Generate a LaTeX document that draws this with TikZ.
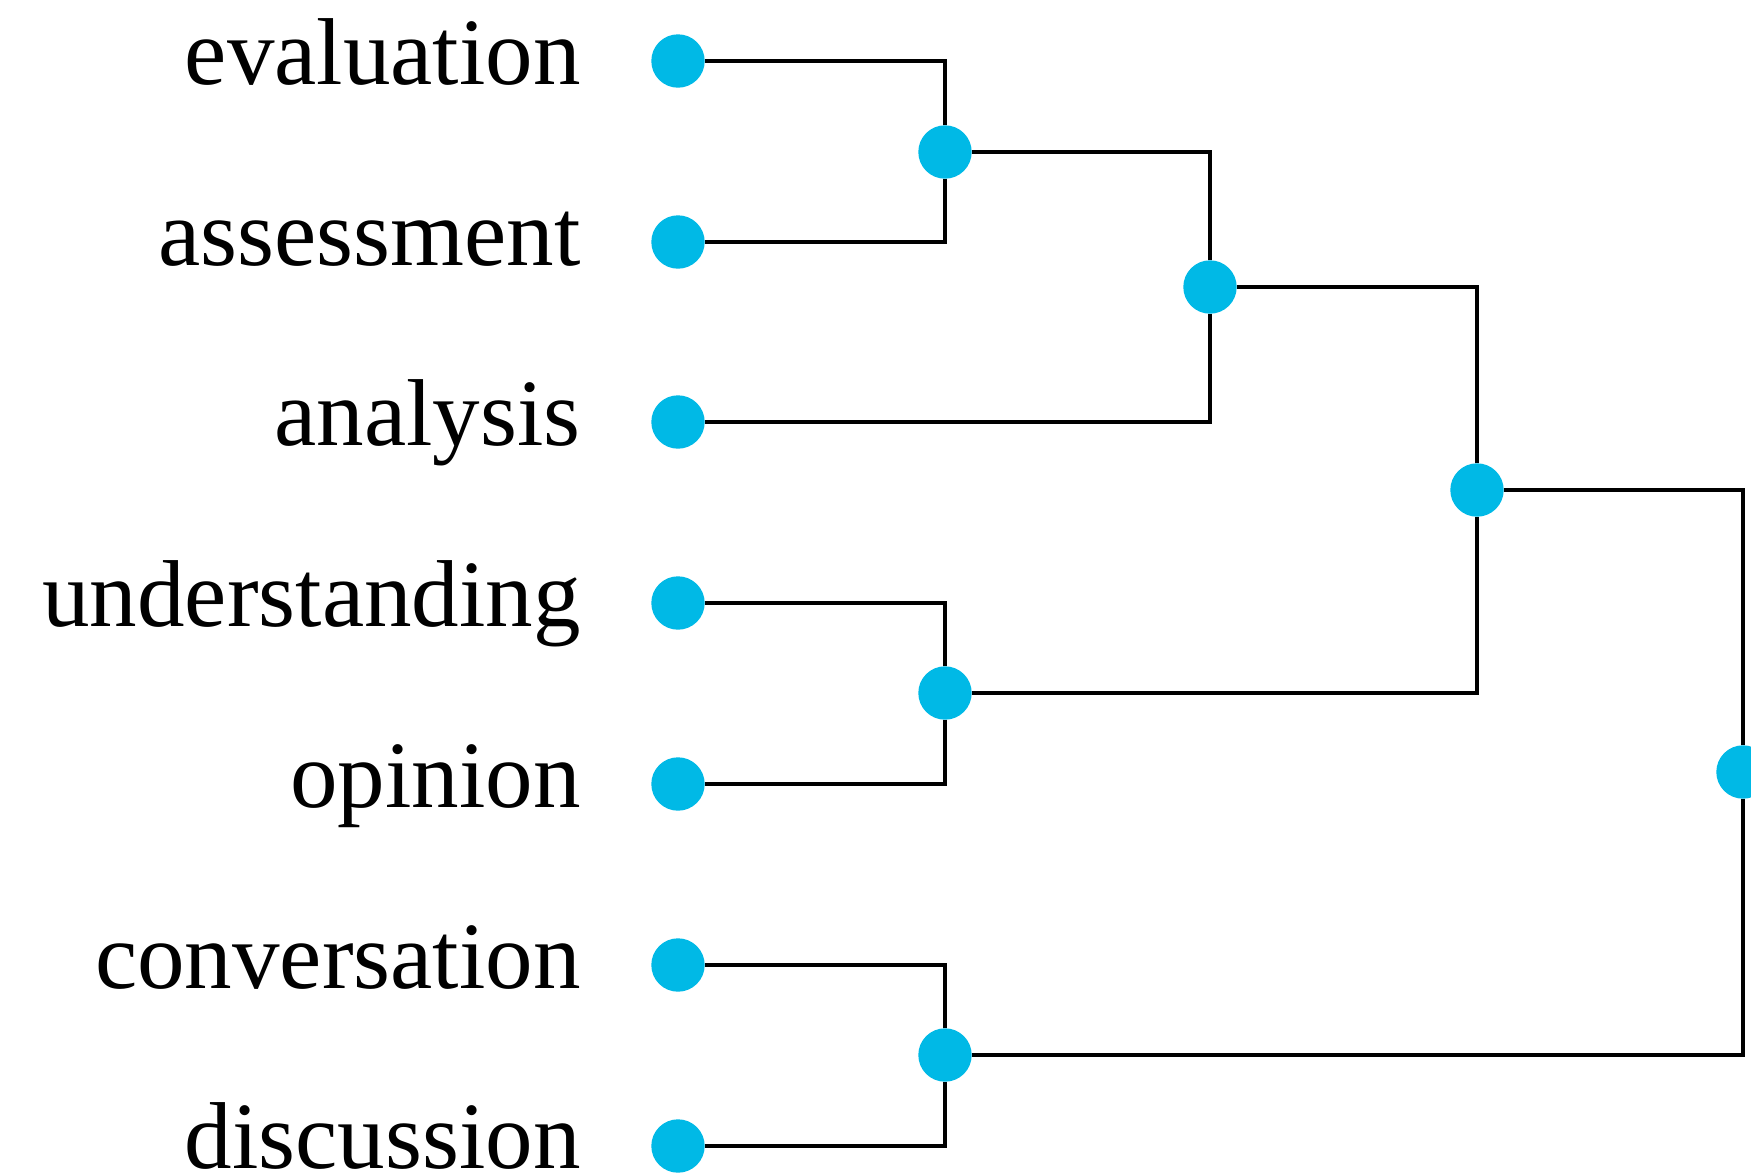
\documentclass[tikz,border=0pt]{standalone}
\usepackage{fontspec}
\setmainfont{Liberation Serif}
\usepackage{tikz}
\definecolor{dotblue}{RGB}{0,185,230}

\begin{document}
\begin{tikzpicture}[
    x=0.5pt, y=-0.5pt,
    dot/.style={circle, fill=dotblue, inner sep=0pt, minimum size=26.7pt},
    word/.style={anchor=base east, inner sep=0pt, font=\fontsize{47.5}{55}\selectfont},
    link/.style={draw, line width=1.75pt},
]
\useasboundingbox (0,0) rectangle (1751,1174);
% Leaves (absolute coords)
\node[dot] (eva) at (678,  61) {};
\node[dot] (ass) at (678, 242) {};
\node[dot] (ana) at (678, 422) {};
\node[dot] (und) at (678, 603) {};
\node[dot] (opi) at (678, 784) {};
\node[dot] (con) at (678, 965) {};
\node[dot] (dis) at (678,1146) {};
% Labels
\node[word] (teva) at (581,  84) {evaluation};
\node[word] (tass) at (581, 265) {assessment};
\node[word] (tana) at (581, 445) {analysis};
\node[word] (tund) at (581, 626) {understanding};
\node[word] (topi) at (581, 807) {opinion};
\node[word] (tcon) at (581, 988) {conversation};
\node[word] (tdis) at (581,1168) {discussion};
% Merges
\node[dot] (m1) at (945, 152) {};
\node[dot] (m2) at (945, 693) {};
\node[dot] (m3) at (945,1055) {};
\node[dot] (m4) at (1210, 287) {};
\node[dot] (m5) at (1477, 490) {};
\node[dot] (root) at (1743, 772) {};
% Links
\draw[link] (eva) -| (m1); \draw[link] (ass) -| (m1);
\draw[link] (und) -| (m2); \draw[link] (opi) -| (m2);
\draw[link] (con) -| (m3); \draw[link] (dis) -| (m3);
\draw[link] (m1) -| (m4); \draw[link] (ana) -| (m4);
\draw[link] (m4) -| (m5); \draw[link] (m2) -| (m5);
\draw[link] (m5) -| (root); \draw[link] (m3) -| (root);
\end{tikzpicture}
\end{document}
